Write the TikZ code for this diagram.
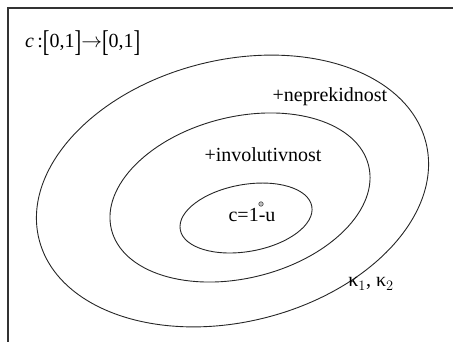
\documentclass[tikz,border=0pt]{standalone}
\usepackage{fontspec}
\setmainfont{Liberation Serif}
\usepackage{graphicx}
\newcommand{\tallbr}[1]{\raisebox{-0.2em}{\scalebox{1}[1.5]{#1}}}
\begin{document}
\begin{tikzpicture}[x=1pt,y=-1pt,
  lbl/.style={inner sep=0pt,anchor=base,font=\fontsize{20}{23}\selectfont},
  oval/.style={draw=black!85,line width=0.9pt},
  frameline/.style={draw=black!80,line width=1.4pt}]
\useasboundingbox (0,0) rectangle (453,342);
\coordinate (ftop) at (453,8);
\coordinate (fcorner) at (8,8);
\coordinate (fbot) at (8,342);
\draw[frameline] (ftop) -- (fcorner) -- (fbot);
\coordinate (o1) at (232.5,191);
\coordinate (o2) at (240,197.5);
\coordinate (o3) at (246,218);
\draw[oval,rotate around={14:(o1)}] (o1) ellipse [x radius=199.4,y radius=130.9];
\draw[oval,rotate around={14:(o2)}] (o2) ellipse [x radius=132.5,y radius=80.6];
\draw[oval,rotate around={10:(o3)}] (o3) ellipse [x radius=66.8,y radius=33.5];
\node[circle,draw=black!70,fill=black!25,inner sep=0pt,minimum size=4.5pt,line width=0.6pt] (dot) at (261,204) {};
\node[lbl] (cu) at (252,222) {c=1-u};
\node[lbl] (inv) at (263,162) {+involutivnost};
\node[lbl] (nep) at (330,102) {+neprekidnost};
\node[lbl] (kap) at (371,287) {κ$_1$, κ$_2$};
\node[lbl,anchor=base west] (form) at (25,48) {\textit{c}\,:\tallbr{[}0,1\tallbr{]}$\rightarrow$\tallbr{[}0,1\tallbr{]}};
\end{tikzpicture}
\end{document}
